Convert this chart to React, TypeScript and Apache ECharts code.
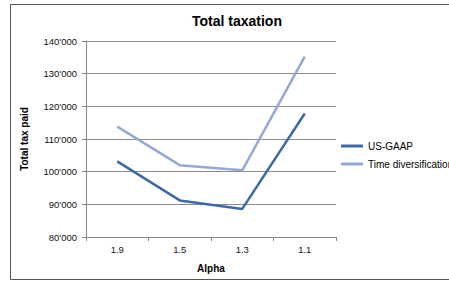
import React, { useEffect, useRef } from "react";
import * as echarts from "echarts";

const categories = ["1.9", "1.5", "1.3", "1.1"];
const usGaap = [103150, 91200, 88600, 117800];
const timeDiversification = [113800, 102000, 100400, 135200];
const seriesNames = ["US-GAAP", "Time diversification"];

const fmt = (v: number) => {
  const t = Math.floor(v / 1000);
  const r = String(v % 1000).padStart(3, "0");
  return t + "'" + r;
};

export default function App() {
  const ref = useRef<HTMLDivElement>(null);
  useEffect(() => {
    const chart = echarts.init(ref.current!, null, { renderer: "svg" });
    const font = "'Liberation Sans', Arial, sans-serif";
    chart.setOption({
      animation: false,
      backgroundColor: "#ffffff",
      textStyle: { fontFamily: font },
      title: {
        text: "Total taxation",
        left: 187,
        top: 9,
        padding: 5,
        textStyle: { fontSize: 14, fontWeight: "bold", color: "#000", fontFamily: font },
      },
      graphic: [
        {
          type: "rect",
          shape: { x: 10.5, y: 4.5, width: 500, height: 275 },
          style: { fill: "none", stroke: "#555", lineWidth: 1 },
          silent: true,
        },
      ],
      legend: {
        orient: "vertical",
        left: 341,
        top: 140,
        itemWidth: 22,
        itemHeight: 3,
        itemGap: 6,
        icon: "rect",
        padding: 0,
        textStyle: { fontSize: 10, color: "#000", fontFamily: font, lineHeight: 12 },
        data: seriesNames,
      },
      grid: { left: 86, right: 113, top: 41, bottom: 44 },
      xAxis: {
        type: "category",
        data: categories,
        boundaryGap: true,
        name: "Alpha",
        nameLocation: "middle",
        nameGap: 26,
        nameTextStyle: { fontSize: 10, fontWeight: "bold", color: "#000", fontFamily: font },
        axisLine: { lineStyle: { color: "#888", width: 1 } },
        axisTick: { show: true, length: 4, lineStyle: { color: "#888" } },
        axisLabel: { fontSize: 9.5, color: "#111", margin: 7, fontFamily: font },
      },
      yAxis: {
        type: "value",
        min: 80000,
        max: 140000,
        interval: 10000,
        name: "Total tax paid",
        nameLocation: "middle",
        nameGap: 57,
        nameRotate: 90,
        nameTextStyle: { fontSize: 10, fontWeight: "bold", color: "#000", fontFamily: font },
        axisLine: { show: true, lineStyle: { color: "#888", width: 1 } },
        axisTick: { show: true, length: 4, lineStyle: { color: "#888" } },
        axisLabel: { fontSize: 9.5, color: "#111", margin: 9, formatter: fmt, fontFamily: font },
        splitLine: { show: true, lineStyle: { color: "#8c8c8c", width: 1 } },
      },
      series: [
        {
          name: seriesNames[0],
          type: "line",
          data: usGaap,
          symbol: "none",
          lineStyle: { color: "#3c69a7", width: 2.5 },
          itemStyle: { color: "#3c69a7" },
        },
        {
          name: seriesNames[1],
          type: "line",
          data: timeDiversification,
          symbol: "none",
          lineStyle: { color: "#93aad2", width: 2.5 },
          itemStyle: { color: "#93aad2" },
        },
      ],
    });
    return () => chart.dispose();
  }, []);
  return (
    <div
      ref={ref}
      style={{ position: "fixed", left: 0, top: 0, width: 449, height: 281 }}
    />
  );
}
